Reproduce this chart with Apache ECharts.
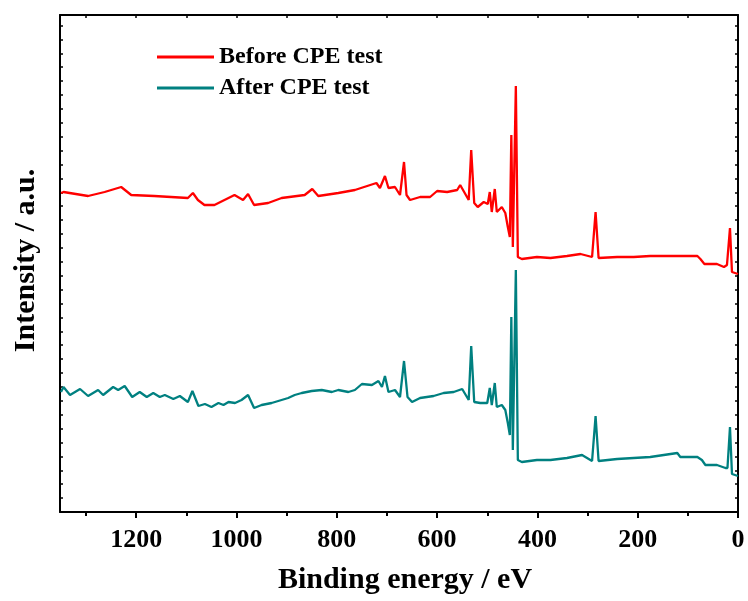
<!DOCTYPE html>
<html>
<head>
<meta charset="utf-8">
<title>XPS survey spectra</title>
<script src="https://cdn.jsdelivr.net/npm/echarts@6/dist/echarts.min.js"></script>
<style>
  html, body { margin: 0; padding: 0; background: #fff; }
  #chart { width: 748px; height: 601px; }
</style>
</head>
<body>
<div id="chart"></div>
<script>
// XPS survey spectra (binding energy in eV, intensity in arbitrary units)
const beforeEnergy = [1350, 1345, 1296, 1263, 1230, 1210, 1164, 1097, 1087, 1077, 1064, 1044, 1004, 987, 977, 965, 937, 910, 864, 849, 837, 797, 764, 721, 714, 704, 697, 684, 674, 666, 661, 654, 634, 614, 600, 580, 560, 554, 537, 532, 526, 519, 507, 499, 495, 491, 485, 481, 471, 464, 459, 455, 452, 449, 443, 439, 431, 401, 374, 341, 314, 291, 284, 278, 241, 208, 175, 121, 81, 75, 67, 42, 28, 22, 16, 12, 0];
const beforeIntensity = [319, 320, 316, 320, 325, 317, 316, 314, 319, 312, 307, 307, 317, 312, 318, 307, 309, 314, 317, 323, 316, 319, 322, 329, 324, 336, 324, 325, 317, 350, 317, 312, 315, 315, 321, 320, 322, 327, 312, 362, 309, 305, 310, 308, 320, 300, 323, 300, 305, 299, 285, 275, 377, 265, 426, 255, 253, 255, 254, 256, 258, 255, 300, 254, 255, 255, 256, 256, 256, 253, 248, 248, 245, 247, 284, 240, 238];

const afterEnergy = [1350, 1345, 1332, 1312, 1296, 1276, 1266, 1246, 1236, 1223, 1208, 1193, 1179, 1166, 1153, 1143, 1126, 1113, 1097, 1088, 1076, 1063, 1050, 1036, 1026, 1016, 1003, 990, 977, 965, 950, 930, 897, 884, 870, 850, 830, 810, 797, 777, 764, 750, 730, 717, 710, 704, 697, 684, 674, 666, 659, 650, 634, 607, 587, 567, 550, 537, 532, 526, 514, 500, 495, 491, 485, 481, 471, 464, 459, 455, 452, 449, 443, 439, 431, 401, 374, 341, 311, 291, 284, 278, 241, 208, 175, 121, 115, 81, 72, 65, 42, 25, 21, 16, 12, 0];
const afterIntensity = [120, 125, 117, 123, 116, 122, 117, 125, 122, 126, 115, 120, 115, 119, 115, 117, 113, 116, 110, 121, 106, 108, 105, 109, 107, 110, 109, 112, 117, 104, 107, 109, 114, 117, 119, 121, 122, 120, 122, 120, 122, 128, 127, 131, 125, 136, 120, 122, 115, 151, 115, 110, 114, 116, 119, 120, 123, 112, 166, 110, 109, 109, 124, 107, 129, 105, 107, 102, 89, 77, 195, 62, 242, 52, 50, 52, 52, 54, 57, 51, 96, 51, 53, 54, 55, 59, 55, 55, 52, 47, 47, 44, 44, 85, 38, 36];

const seriesNames = ['Before CPE test', 'After CPE test'];
const seriesColors = ['#ff0000', '#008080'];

const xMajorTicks = [0, 200, 400, 600, 800, 1000, 1200];
const xMinorTicks = [100, 300, 500, 700, 900, 1100, 1300];

const xMin = 0, xMax = 1352;
const yMin = 0, yMax = 497, yTickStep = 13.9;

const FONT = "'Liberation Serif', 'Times New Roman', serif";

function zip(xs, ys) {
  return xs.map((x, i) => [x, ys[i]]);
}

const chart = echarts.init(document.getElementById('chart'), null, { renderer: 'canvas' });

const frameLine = { show: true, onZero: false, lineStyle: { color: '#000', width: 2 } };

chart.setOption({
  animation: false,
  backgroundColor: '#fff',
  grid: { left: 60, right: 10, top: 15, bottom: 89, containLabel: false },
  legend: {
    orient: 'vertical',
    left: 152,
    top: 40,
    itemWidth: 57,
    itemHeight: 3,
    itemGap: 7,
    icon: 'rect',
    textStyle: { fontFamily: FONT, fontSize: 24, fontWeight: 'bold', color: '#000', lineHeight: 24 },
    data: seriesNames
  },
  xAxis: [
    {
      type: 'value', position: 'bottom', inverse: true, min: xMin, max: xMax,
      axisLine: frameLine,
      axisTick: { show: true, inside: false, length: 6, lineStyle: { color: '#000', width: 2 }, customValues: xMajorTicks },
      axisLabel: {
        show: true, customValues: xMajorTicks, margin: 15,
        formatter: (v) => String(v),
        fontFamily: FONT, fontSize: 26, fontWeight: 'bold', color: '#000'
      },
      splitLine: { show: false },
      name: 'Binding energy / eV', nameLocation: 'middle', nameGap: 53,
      nameTextStyle: { fontFamily: FONT, fontSize: 30, fontWeight: 'bold', color: '#000', padding: [0, 0, 0, 12] }
    },
    {
      type: 'value', position: 'bottom', inverse: true, min: xMin, max: xMax,
      axisLine: { show: false },
      axisTick: { show: true, inside: false, length: 4, lineStyle: { color: '#000', width: 2 }, customValues: xMinorTicks },
      axisLabel: { show: false },
      splitLine: { show: false }
    },
    {
      type: 'value', position: 'top', inverse: true, min: xMin, max: xMax,
      axisLine: frameLine,
      axisTick: { show: true, inside: true, length: 3, lineStyle: { color: '#000', width: 1.5 }, customValues: xMajorTicks.concat(xMinorTicks) },
      axisLabel: { show: false },
      splitLine: { show: false }
    }
  ],
  yAxis: [
    {
      type: 'value', position: 'left', min: yMin, max: yMax, interval: yTickStep,
      axisLine: frameLine,
      axisTick: { show: true, inside: true, length: 3, lineStyle: { color: '#000', width: 1.5 } },
      axisLabel: { show: false },
      splitLine: { show: false },
      name: 'Intensity / a.u.', nameLocation: 'middle', nameGap: 19, nameRotate: 90,
      nameTextStyle: { fontFamily: FONT, fontSize: 30, fontWeight: 'bold', color: '#000', padding: [0, 0, 0, 6] }
    },
    {
      type: 'value', position: 'right', min: yMin, max: yMax, interval: yTickStep,
      axisLine: frameLine,
      axisTick: { show: true, inside: true, length: 3, lineStyle: { color: '#000', width: 1.5 } },
      axisLabel: { show: false },
      splitLine: { show: false }
    }
  ],
  series: [
    {
      name: seriesNames[0], type: 'line', xAxisIndex: 0, yAxisIndex: 0,
      showSymbol: false, symbol: 'none', color: seriesColors[0],
      lineStyle: { color: seriesColors[0], width: 2.3 },
      data: zip(beforeEnergy, beforeIntensity)
    },
    {
      name: seriesNames[1], type: 'line', xAxisIndex: 0, yAxisIndex: 0,
      showSymbol: false, symbol: 'none', color: seriesColors[1],
      lineStyle: { color: seriesColors[1], width: 2.3 },
      data: zip(afterEnergy, afterIntensity)
    }
  ]
});
</script>
</body>
</html>
